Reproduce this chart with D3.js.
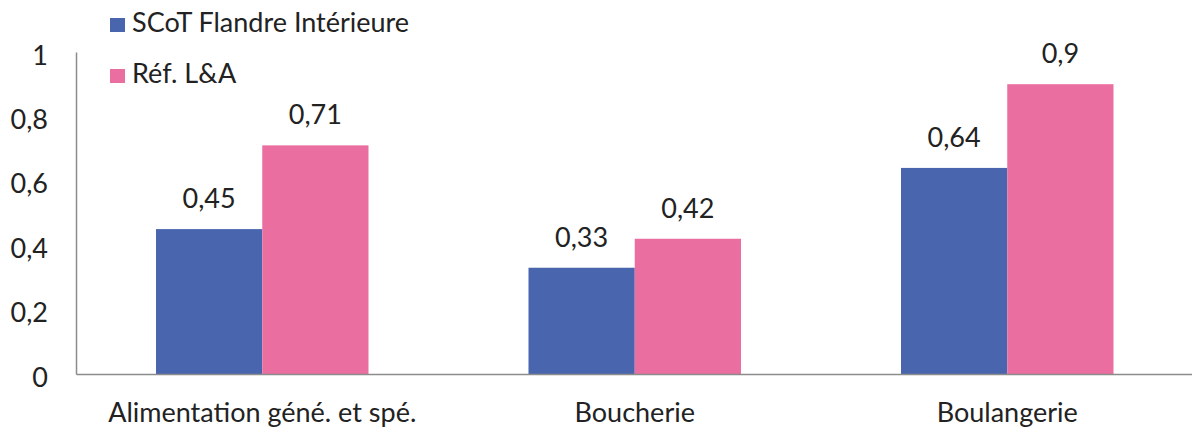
<!DOCTYPE html>
<html><head><meta charset="utf-8">
<script src="https://cdn.jsdelivr.net/npm/d3@7"></script>
<style>body{margin:0;background:#fff}svg{display:block}text{font-family:Lato, "Open Sans", sans-serif;fill:#222}</style>
</head><body><div id="chart"></div>
<script>
const categories = ["Alimentation géné. et spé.", "Boucherie", "Boulangerie"];
const seriesNames = ["SCoT Flandre Intérieure", "Réf. L&A"];
const scotValues = [0.45, 0.33, 0.64];
const refValues = [0.71, 0.42, 0.9];
const yTicks = [0, 0.2, 0.4, 0.6, 0.8, 1];
const colors = ["#4965ae", "#eb6ea1"];

const W = 1192, H = 428;
const svg = d3.select("#chart").append("svg").attr("width", W).attr("height", H);
const x0 = d3.scaleBand().domain(categories).range([76, 1193.5]).paddingInner(160/372.5).paddingOuter(80/372.5);
const x1 = d3.scaleBand().domain(seriesNames).range([0, x0.bandwidth()]);
const y = d3.scaleLinear().domain([0, 1]).range([374, 52]);
const fmt = v => String(v).replace(".", ",");
const FS = 27;

const data = categories.map((c, i) => ({cat: c, vals: [scotValues[i], refValues[i]]}));
const g = svg.selectAll("g.grp").data(data).join("g").attr("class","grp").attr("transform", d => `translate(${x0(d.cat)},0)`);
g.selectAll("rect").data(d => d.vals.map((v, j) => ({v, j}))).join("rect")
  .attr("x", d => x1(seriesNames[d.j])).attr("width", x1.bandwidth())
  .attr("y", d => y(d.v)).attr("height", d => y(0) - y(d.v)).attr("fill", d => colors[d.j]);
g.selectAll("text").data(d => d.vals.map((v, j) => ({v, j}))).join("text")
  .attr("x", d => x1(seriesNames[d.j]) + x1.bandwidth()/2).attr("y", d => y(d.v) - 21)
  .attr("text-anchor", "middle").style("font-size", FS + "px").text(d => fmt(d.v));

// y axis
const ya = svg.append("g").attr("transform", "translate(76,0)")
  .call(d3.axisLeft(y).tickValues(yTicks).tickSize(0).tickPadding(28).tickFormat(fmt));
ya.select(".domain").attr("stroke", "#8c8c8c").attr("stroke-width", 1.5);
ya.selectAll("text").style("font-size", FS + "px").attr("dy", "0.45em").style("font-family", null);
// x axis
const xa = svg.append("g").attr("transform", "translate(0,374)")
  .call(d3.axisBottom(x0).tickSize(0).tickPadding(0));
xa.select(".domain").attr("stroke", "#8c8c8c").attr("stroke-width", 1.5);
xa.selectAll("text").style("font-size", FS + "px").attr("y", 48).attr("dy", 0).style("font-family", null);

// legend
const lg = svg.append("g").selectAll("g").data(seriesNames).join("g").attr("transform", (d, i) => `translate(110,${18 + i*51})`);
lg.append("rect").attr("width", 15).attr("height", 14).attr("fill", (d, i) => colors[i]);
lg.append("text").attr("x", 22).attr("y", 14).style("font-size", FS + "px").text(d => d);
</script></body></html>
